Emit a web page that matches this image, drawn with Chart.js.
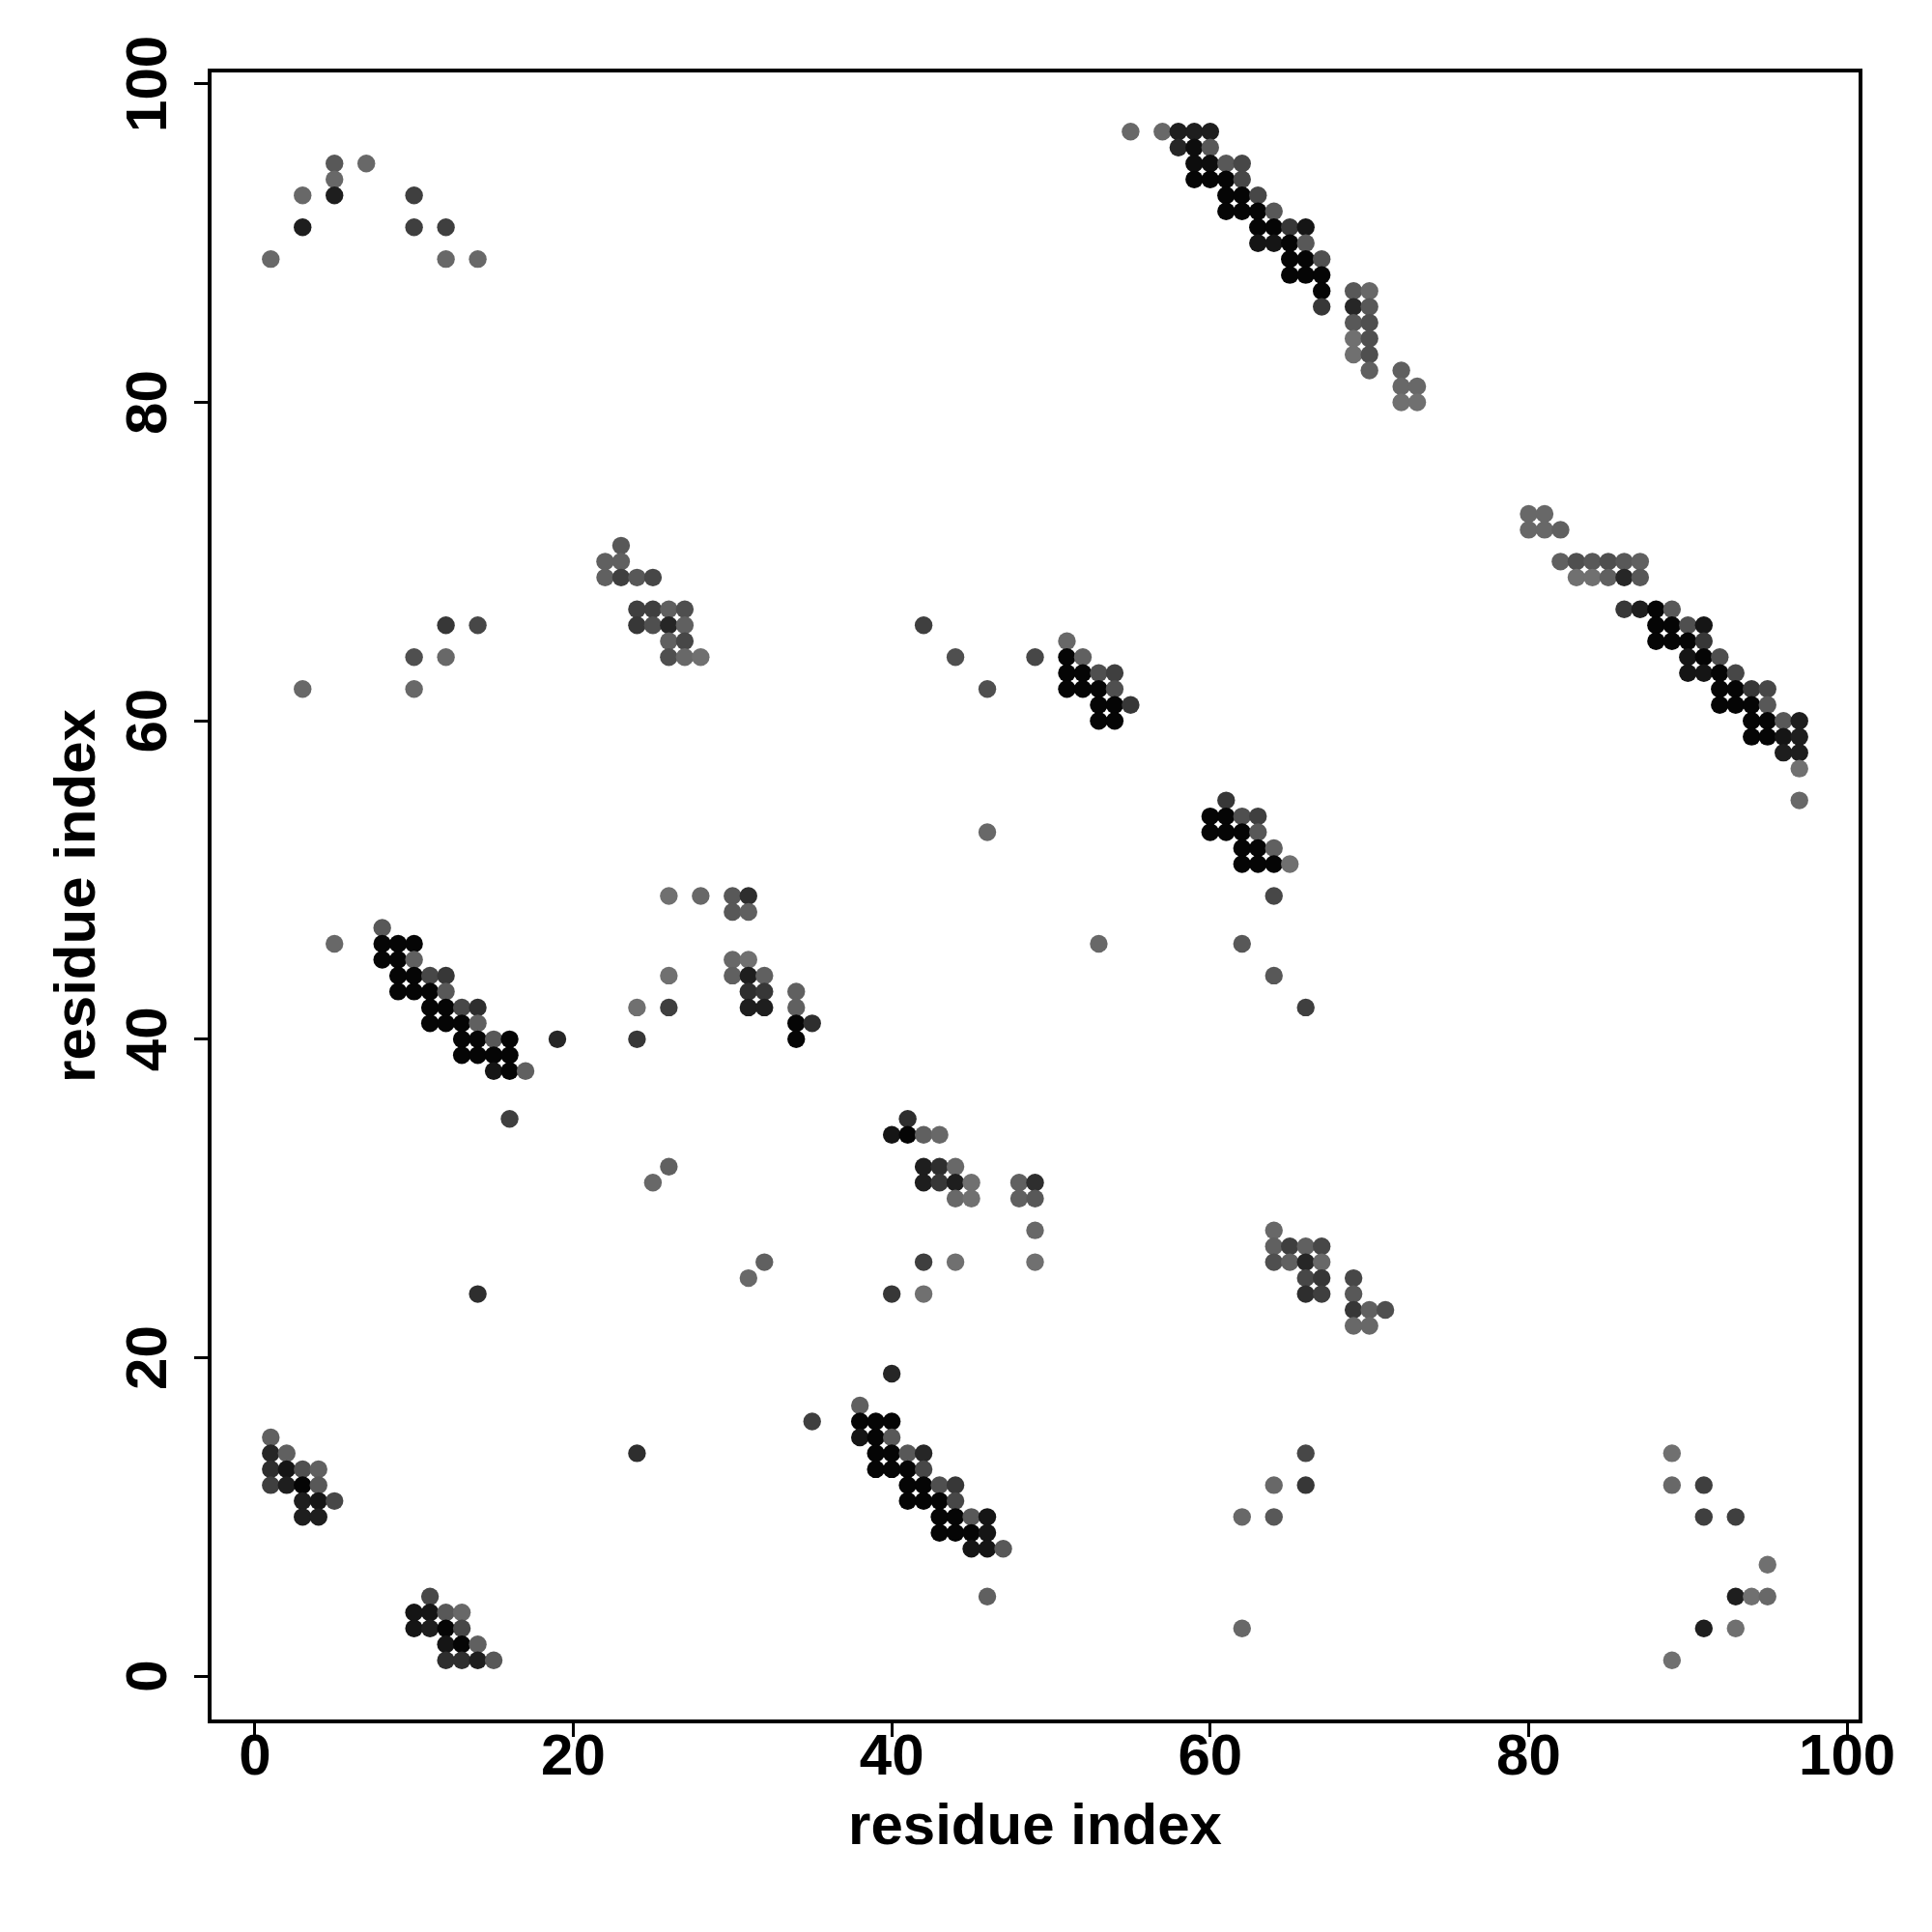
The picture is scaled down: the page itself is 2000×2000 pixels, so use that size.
<!DOCTYPE html>
<html>
<head>
<meta charset="utf-8">
<title>contact map</title>
<script src="https://cdn.jsdelivr.net/npm/chart.js@4.4.1/dist/chart.umd.min.js"></script>
<style>
  html, body { margin: 0; padding: 0; background: #fff; }
  #wrap { width: 2000px; height: 2000px; }
</style>
</head>
<body>
<div id="wrap"><canvas id="contacts" width="2000" height="2000"></canvas></div>
<script>
// rows of the contact map: residue j, then the residues i in that row and their contact probability
const rowY = [97, 96, 95, 94, 93, 92, 91, 90, 89, 88, 87, 86, 85, 84, 83, 82, 81, 80,
  73, 72, 71, 70, 69, 67, 66, 65, 64, 63, 62, 61, 60, 59, 58, 57, 55, 54, 53, 52, 51,
  49, 48, 47, 46, 45, 44, 43, 42, 41, 40, 39, 38, 35, 34, 32, 31, 30, 28, 27, 26, 25,
  24, 23, 22, 19, 17, 16, 15, 14, 13, 12, 11, 10, 9, 8, 7, 5, 4, 3, 2, 1];

const rowX = [
  [55, 57, 58, 59, 60], [58, 59, 60], [5, 7, 59, 60, 61, 62], [5, 59, 60, 61, 62],
  [3, 5, 10, 61, 62, 63], [61, 62, 63, 64], [3, 10, 12, 63, 64, 65, 66], [63, 64, 65, 66],
  [1, 12, 14, 65, 66, 67], [65, 66, 67], [67, 69, 70], [67, 69, 70], [69, 70], [69, 70],
  [69, 70], [70, 72], [72, 73], [72, 73],
  [80, 81], [80, 81, 82], [23], [22, 23, 82, 83, 84, 85, 86, 87],
  [22, 23, 24, 25, 83, 84, 85, 86, 87], [24, 25, 26, 27, 86, 87, 88, 89],
  [12, 14, 24, 25, 26, 27, 42, 88, 89, 90, 91], [26, 27, 51, 88, 89, 90, 91],
  [10, 12, 26, 27, 28, 44, 49, 51, 52, 90, 91, 92], [51, 52, 53, 54, 90, 91, 92, 93],
  [3, 10, 46, 51, 52, 53, 54, 92, 93, 94, 95], [53, 54, 55, 92, 93, 94, 95],
  [53, 54, 94, 95, 96, 97], [94, 95, 96, 97], [96, 97], [97], [61, 97],
  [60, 61, 62, 63], [46, 60, 61, 62, 63], [62, 63, 64], [62, 63, 64, 65],
  [26, 28, 30, 31, 64], [30, 31], [8], [5, 8, 9, 10, 53, 62], [8, 9, 10, 30, 31],
  [9, 10, 11, 12, 26, 30, 31, 32, 64], [9, 10, 11, 12, 31, 32, 34],
  [11, 12, 13, 14, 24, 26, 31, 32, 34, 66], [11, 12, 13, 14, 34, 35],
  [13, 14, 15, 16, 19, 24, 34], [13, 14, 15, 16], [15, 16, 17], [16, 41],
  [40, 41, 42, 43], [26, 42, 43, 44], [25, 42, 43, 44, 45, 48, 49], [44, 45, 48, 49],
  [49, 64], [64, 65, 66, 67], [32, 42, 44, 49, 64, 65, 66, 67], [31, 66, 67, 69],
  [14, 40, 42, 66, 67, 69], [69, 70, 71], [69, 70], [40], [38], [35, 38, 39, 40],
  [1, 38, 39, 40], [1, 2, 24, 39, 40, 41, 42, 66, 89], [1, 2, 3, 4, 39, 40, 41, 42],
  [1, 2, 3, 4, 41, 42, 43, 44, 64, 66, 89, 91], [3, 4, 5, 41, 42, 43, 44],
  [3, 4, 43, 44, 45, 46, 62, 64, 91, 93], [43, 44, 45, 46], [45, 46, 47], [95],
  [11, 46, 93, 94, 95], [10, 11, 12, 13], [10, 11, 12, 13, 62, 91, 93], [12, 13, 14],
  [12, 13, 14, 15, 89]
];

const rowP = [
  [.4, .4, .85, .85, .85], [.8, .95, .5], [.5, .4, .95, .95, .5, .6], [.4, 1, 1, 1, .6],
  [.4, .85, .65, 1, 1, .6], [1, 1, 1, .5], [.85, .65, .65, 1, 1, .7, .9], [.9, .9, 1, .5],
  [.4, .4, .4, 1, 1, .55], [1, 1, 1], [1, .5, .4], [.7, .8, .5], [.5, .55], [.35, .55],
  [.35, .55], [.45, .45], [.4, .4], [.35, .35],
  [.4, .4], [.4, .4, .45], [.5], [.45, .45, .45, .55, .5, .55, .5, .45],
  [.45, .65, .5, .6, .35, .35, .45, .8, .5], [.65, .65, .45, .55, .7, .85, 1, .5],
  [.7, .6, .7, .55, .8, .45, .65, 1, 1, .55, .9], [.45, .6, .4, 1, 1, 1, .7],
  [.55, .4, .55, .4, .35, .55, .6, 1, .45, .9, 1, .55], [1, 1, .55, .65, .9, .9, 1, .6],
  [.4, .4, .55, 1, 1, 1, .55, 1, 1, .7, .6], [1, 1, .7, 1, 1, 1, .5],
  [1, 1, 1, 1, .5, .85], [1, 1, .9, .85], [.85, .85], [.35], [.7, .4],
  [1, 1, .55, .65], [.4, 1, 1, 1, .5], [1, 1, .45], [1, 1, 1, .35],
  [.35, .4, .5, .75, .6], [.5, .45], [.5], [.4, 1, 1, 1, .4, .5], [1, 1, .45, .4, .35],
  [1, 1, .6, .7, .35, .45, .85, .45, .5], [1, 1, 1, .5, .75, .7, .45],
  [1, 1, .6, .75, .35, .65, .85, .85, .45, .65], [1, 1, 1, .45, 1, .75],
  [1, 1, .5, 1, .8, .7, 1], [1, 1, 1, 1], [.9, 1, .45], [.65, .75],
  [.9, 1, .45, .4], [.45, .85, .75, .4], [.4, .85, .7, .85, .35, .45, .75], [.4, .35, .45, .5],
  [.4, .4], [.45, .65, .45, .6], [.45, .65, .35, .35, .55, .45, .8, .4], [.4, .6, .7, .6],
  [.75, .7, .35, .75, .65, .5], [.7, .45, .55], [.4, .4], [.8], [.45], [.65, 1, 1, 1],
  [.45, .9, 1, .5], [.8, .45, .75, 1, 1, .5, .8, .6, .35], [.75, .9, .55, .45, 1, 1, 1, .6],
  [.65, .85, 1, .5, 1, 1, .55, .7, .4, .7, .4, .65], [.85, .9, .6, 1, 1, 1, .6],
  [.85, .85, 1, 1, .5, .9, .4, .5, .65, .65], [1, 1, 1, .9], [.9, .9, .5], [.35],
  [.6, .45, .85, .35, .4], [.9, .9, .5, .4], [.9, .85, 1, .6, .4, .85, .35], [.9, 1, .45],
  [.75, .75, .85, .5, .35]
];

const axisTicks = [0, 20, 40, 60, 80, 100];
const axisMin = -2.84;
const axisMax = 100.84;

const FONT = "'Liberation Sans', Arial, Helvetica, sans-serif";

let contactPoints = [];
rowY.forEach((y, r) => {
  rowX[r].forEach((x, k) => {
    contactPoints.push({ x: x, y: y, p: rowP[r][k] });
  });
});

// darker = more probable contact
function greyFor(p) {
  let g = Math.round(5 + (1 - p) * 165);
  return `rgb(${g},${g},${g})`;
}

//! frame around the plotting region
const boxPlugin = {
  id: "box",
  afterDatasetsDraw(chart) {
    const { ctx, chartArea: a } = chart;
    ctx.save();
    ctx.strokeStyle = "#000";
    ctx.lineWidth = 4;
    ctx.strokeRect(a.left, a.top, a.right - a.left, a.bottom - a.top);
    ctx.restore();
  }
};

//! y tick labels turned to read upwards like R's default
const yLabelPlugin = {
  id: "yLabels",
  afterDraw(chart) {
    const { ctx } = chart;
    const ys = chart.scales.y;
    ctx.save();
    ctx.fillStyle = "#000";
    ctx.font = "bold 60px " + FONT;
    ctx.textAlign = "center";
    ctx.textBaseline = "alphabetic";
    axisTicks.forEach((v) => {
      let py = ys.getPixelForValue(v);
      ctx.save();
      ctx.translate(172, py);
      ctx.rotate(-Math.PI / 2);
      ctx.fillText(String(v), 0, 0);
      ctx.restore();
    });
    ctx.restore();
  }
};

const tickGrid = {
  display: true,
  drawOnChartArea: false,
  drawTicks: true,
  tickLength: 16,
  tickWidth: 3,
  tickColor: "#000"
};

let ctxMap = document.getElementById("contacts").getContext("2d");

let contactChart = new Chart(ctxMap, {
  type: "scatter",
  data: {
    datasets: [
      {
        data: contactPoints,
        pointRadius: 9.2,
        pointHoverRadius: 9.2,
        pointBorderWidth: 0,
        pointBackgroundColor: (c) => (c.raw ? greyFor(c.raw.p) : "#000"),
        clip: false
      }
    ]
  },
  options: {
    responsive: false,
    animation: false,
    devicePixelRatio: 1,
    layout: { padding: { left: 0, top: 73, right: 74, bottom: 0 } },
    plugins: {
      legend: { display: false },
      tooltip: { enabled: false }
    },
    scales: {
      x: {
        type: "linear",
        min: axisMin,
        max: axisMax,
        afterBuildTicks: (s) => { s.ticks = axisTicks.map((v) => ({ value: v })); },
        afterFit: (s) => { s.height = 218; },
        grid: tickGrid,
        border: { display: false },
        ticks: {
          color: "#000",
          padding: -14,
          maxRotation: 0,
          font: { family: FONT, size: 60, weight: "bold" }
        },
        title: {
          display: true,
          text: "residue index",
          color: "#000",
          padding: { top: 0, bottom: 72 },
          font: { family: FONT, size: 60, weight: "bold" }
        }
      },
      y: {
        type: "linear",
        min: axisMin,
        max: axisMax,
        afterBuildTicks: (s) => { s.ticks = axisTicks.map((v) => ({ value: v })); },
        afterFit: (s) => { s.width = 217; },
        grid: tickGrid,
        border: { display: false },
        ticks: { display: false },
        title: {
          display: true,
          text: "residue index",
          color: "#000",
          padding: { top: 45, bottom: 0 },
          font: { family: FONT, size: 60, weight: "bold" }
        }
      }
    }
  },
  plugins: [boxPlugin, yLabelPlugin]
});
</script>
</body>
</html>
